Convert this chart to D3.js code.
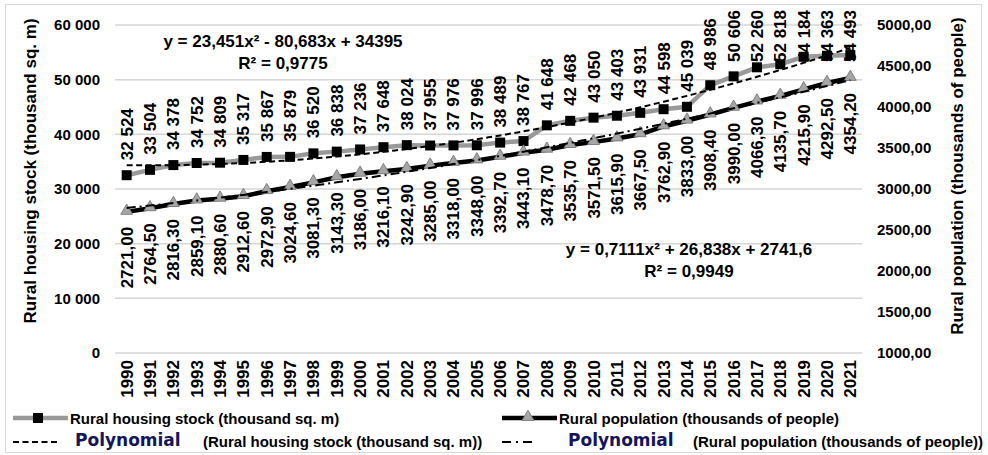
<!DOCTYPE html>
<html>
<head>
<meta charset="utf-8">
<script src="https://cdn.jsdelivr.net/npm/d3@7/dist/d3.min.js"></script>
<style>
  body { margin: 0; background: #fff; }
  svg { display: block; }
  text { font-family: "Liberation Sans", Arial, sans-serif; fill: #000; }
</style>
</head>
<body>
<div id="chart"></div>
<script>
// 数据
const years = [1990, 1991, 1992, 1993, 1994, 1995, 1996, 1997, 1998, 1999, 2000, 2001, 2002, 2003, 2004, 2005,
  2006, 2007, 2008, 2009, 2010, 2011, 2012, 2013, 2014, 2015, 2016, 2017, 2018, 2019, 2020, 2021]
const housingStock = [32524, 33504, 34378, 34752, 34809, 35317, 35867, 35879, 36520, 36838, 37236, 37648,
  38024, 37955, 37976, 37996, 38489, 38767, 41648, 42468, 43050, 43403, 43931, 44598, 45039, 48986, 50606,
  52260, 52818, 54184, 54363, 54493]
const population = [2721.00, 2764.50, 2816.30, 2859.10, 2880.60, 2912.60, 2972.90, 3024.60, 3081.30, 3143.30,
  3186.00, 3216.10, 3242.90, 3285.00, 3318.00, 3348.00, 3392.70, 3443.10, 3478.70, 3535.70, 3571.50, 3615.90,
  3667.50, 3762.90, 3833.00, 3908.40, 3990.00, 4066.30, 4135.70, 4215.90, 4292.50, 4354.20]
const leftTicks = [0, 10000, 20000, 30000, 40000, 50000, 60000]
const rightTicks = [1000, 1500, 2000, 2500, 3000, 3500, 4000, 4500, 5000]
const housingEquation = ['y = 23,451x\u00b2 - 80,683x + 34395', 'R\u00b2 = 0,9775']
const populationEquation = ['y = 0,7111x\u00b2 + 26,838x + 2741,6', 'R\u00b2 = 0,9949']
const titles = {
  left: 'Rural housing stock (thousand sq. m)',
  right: 'Rural population (thousands of people)'
}

const W = 988
const H = 455

// 数字格式：空格作千分位，逗号作小数点
const locale = d3.formatLocale({ decimal: ',', thousands: ' ', grouping: [3], currency: ['', ''] })
const fmtInt = locale.format(',d')
const fmtDec = locale.format('.2f')

const svg = d3.select('#chart').append('svg').attr('width', W).attr('height', H)

// 外框
svg.append('rect')
  .attr('x', 5.5).attr('y', 4.5).attr('width', 976).attr('height', 448)
  .attr('fill', 'none').attr('stroke', '#d9d9d9')

const x = d3.scalePoint().domain(years).range([115, 862]).padding(0.5)
const yL = d3.scaleLinear().domain([0, 60000]).range([353, 25])
const yR = d3.scaleLinear().domain([1000, 5000]).range([353, 25])

// 网格线
svg.append('g').selectAll('line').data(leftTicks).join('line')
  .attr('x1', 115).attr('x2', 862)
  .attr('y1', d => yL(d)).attr('y2', d => yL(d))
  .attr('stroke', '#d6d6d6').attr('stroke-width', 1.5)

// 左轴刻度
svg.append('g').selectAll('text').data(leftTicks).join('text')
  .attr('x', 100).attr('y', d => yL(d)).attr('dy', '0.35em')
  .attr('text-anchor', 'end').style('font-size', '15px').style('font-weight', 'bold')
  .text(d => fmtInt(d))

// 右轴刻度
svg.append('g').selectAll('text').data(rightTicks).join('text')
  .attr('x', 877).attr('y', d => yR(d)).attr('dy', '0.35em')
  .attr('text-anchor', 'start').style('font-size', '15px').style('font-weight', 'bold')
  .text(d => fmtDec(d))

// 年份
svg.append('g').selectAll('text').data(years).join('text')
  .attr('transform', d => `translate(${x(d)},360) rotate(-90)`)
  .attr('dy', '0.35em').attr('text-anchor', 'end')
  .style('font-size', '17px').style('font-weight', 'bold')
  .text(d => d)

// 轴标题
svg.append('text')
  .attr('transform', 'translate(30,171) rotate(-90)')
  .attr('dy', '0.35em').attr('text-anchor', 'middle')
  .style('font-size', '17px').style('font-weight', 'bold')
  .text(titles.left)
svg.append('text')
  .attr('transform', 'translate(957,176) rotate(-90)')
  .attr('dy', '0.35em').attr('text-anchor', 'middle')
  .style('font-size', '17px').style('font-weight', 'bold')
  .text(titles.right)

// 数据标签：住房在点上方，人口在点下方
const gLabels = svg.append('g')
housingStock.forEach((v, i) => {
  const t = gLabels.append('text')
    .attr('dy', '0.35em').attr('text-anchor', 'start')
    .style('font-size', '17px').style('font-weight', 'bold')
    .text(fmtInt(v))
  const len = t.node().getComputedTextLength()
  let yb = yL(v) - 15
  if (yb - len < 10) yb = 10 + len
  t.attr('transform', `translate(${x(years[i])},${yb}) rotate(-90)`)
})
population.forEach((v, i) => {
  gLabels.append('text')
    .attr('transform', `translate(${x(years[i])},${yR(v) + 15}) rotate(-90)`)
    .attr('dy', '0.35em').attr('text-anchor', 'end')
    .style('font-size', '17px').style('font-weight', 'bold')
    .text(fmtDec(v))
})

// 系列折线
const lineL = d3.line().x((d, i) => x(years[i])).y(d => yL(d))
const lineR = d3.line().x((d, i) => x(years[i])).y(d => yR(d))

svg.append('path').datum(housingStock).attr('d', lineL)
  .attr('fill', 'none').attr('stroke', '#999').attr('stroke-width', 4.5)
svg.append('path').datum(population).attr('d', lineR)
  .attr('fill', 'none').attr('stroke', '#000').attr('stroke-width', 4.5)

// 标记
const square = d3.symbol(d3.symbolSquare, 100)
const triangle = d3.symbol(d3.symbolTriangle, 60)
svg.append('g').selectAll('path').data(housingStock).join('path')
  .attr('transform', (d, i) => `translate(${x(years[i])},${yL(d)})`)
  .attr('d', square).attr('fill', '#000')
svg.append('g').selectAll('path').data(population).join('path')
  .attr('transform', (d, i) => `translate(${x(years[i])},${yR(d) - 1})`)
  .attr('d', triangle).attr('fill', '#a6a6a6').attr('stroke', '#808080').attr('stroke-width', 1)

// 二次多项式最小二乘拟合（x = 1..n，与 Excel 趋势线一致）
function quadFit (ys) {
  const n = ys.length
  let s = [0, 0, 0, 0, 0]
  let t = [0, 0, 0]
  ys.forEach((y, i) => {
    const xi = i + 1
    for (let k = 0; k < 5; k++) s[k] += Math.pow(xi, k)
    for (let k = 0; k < 3; k++) t[k] += y * Math.pow(xi, k)
  })
  // 解 3x3 线性方程组
  const A = [[s[0], s[1], s[2], t[0]], [s[1], s[2], s[3], t[1]], [s[2], s[3], s[4], t[2]]]
  for (let c = 0; c < 3; c++) {
    for (let r = c + 1; r < 3; r++) {
      const f = A[r][c] / A[c][c]
      for (let k = c; k < 4; k++) A[r][k] -= f * A[c][k]
    }
  }
  const coef = [0, 0, 0]
  for (let r = 2; r >= 0; r--) {
    let sum = A[r][3]
    for (let k = r + 1; k < 3; k++) sum -= A[r][k] * coef[k]
    coef[r] = sum / A[r][r]
  }
  return xi => coef[0] + coef[1] * xi + coef[2] * xi * xi
}

const idx = d3.scaleLinear().domain([1, years.length]).range([x(years[0]), x(years[years.length - 1])])
const steps = d3.range(1, years.length + 0.001, 0.25)
const fitH = quadFit(housingStock)
const fitP = quadFit(population)

svg.append('path')
  .attr('d', d3.line().x(t => idx(t)).y(t => yL(fitH(t)))(steps))
  .attr('fill', 'none').attr('stroke', '#000').attr('stroke-width', 2)
  .attr('stroke-dasharray', '6,3.5')
svg.append('path')
  .attr('d', d3.line().x(t => idx(t)).y(t => yR(fitP(t)))(steps))
  .attr('fill', 'none').attr('stroke', '#000').attr('stroke-width', 2)
  .attr('stroke-dasharray', '9,4,2,4')

// 趋势线方程
function drawEquation (lines, cx, y0) {
  lines.forEach((s, i) => {
    svg.append('text')
      .attr('x', cx).attr('y', y0 + i * 22)
      .attr('text-anchor', 'middle')
      .style('font-size', '17px').style('font-weight', 'bold')
      .text(s)
  })
}
drawEquation(housingEquation, 283, 47)
drawEquation(populationEquation, 689, 255)

// 图例
const lg = svg.append('g')
lg.append('line').attr('x1', 13).attr('x2', 68).attr('y1', 418).attr('y2', 418)
  .attr('stroke', '#999').attr('stroke-width', 4.5)
lg.append('path').attr('transform', 'translate(38,418)').attr('d', square).attr('fill', '#000')
lg.append('text').attr('x', 70).attr('y', 424)
  .style('font-size', '15px').style('font-weight', 'bold').text(titles.left)

lg.append('line').attr('x1', 502).attr('x2', 557).attr('y1', 418).attr('y2', 418)
  .attr('stroke', '#000').attr('stroke-width', 4.5)
lg.append('path').attr('transform', 'translate(528,417)').attr('d', triangle)
  .attr('fill', '#a6a6a6').attr('stroke', '#808080')
lg.append('text').attr('x', 559).attr('y', 424)
  .style('font-size', '15px').style('font-weight', 'bold').text(titles.right)

lg.append('line').attr('x1', 13).attr('x2', 60).attr('y1', 442).attr('y2', 442)
  .attr('stroke', '#000').attr('stroke-width', 2).attr('stroke-dasharray', '6,3.5')
lg.append('text').attr('x', 75).attr('y', 446)
  .style('font-family', '"DejaVu Sans", Verdana, sans-serif')
  .style('font-size', '17px').style('font-weight', 'bold').style('fill', '#15155c')
  .text('Polynomial')
lg.append('text').attr('x', 203).attr('y', 447)
  .style('font-size', '15px').style('font-weight', 'bold').text(`(${titles.left})`)

lg.append('line').attr('x1', 502).attr('x2', 533).attr('y1', 442).attr('y2', 442)
  .attr('stroke', '#000').attr('stroke-width', 2).attr('stroke-dasharray', '9,5,2,5')
lg.append('text').attr('x', 568).attr('y', 446)
  .style('font-family', '"DejaVu Sans", Verdana, sans-serif')
  .style('font-size', '17px').style('font-weight', 'bold').style('fill', '#15155c')
  .text('Polynomial')
lg.append('text').attr('x', 693).attr('y', 447)
  .style('font-size', '15px').style('font-weight', 'bold').text(`(${titles.right})`)
</script>
</body>
</html>
